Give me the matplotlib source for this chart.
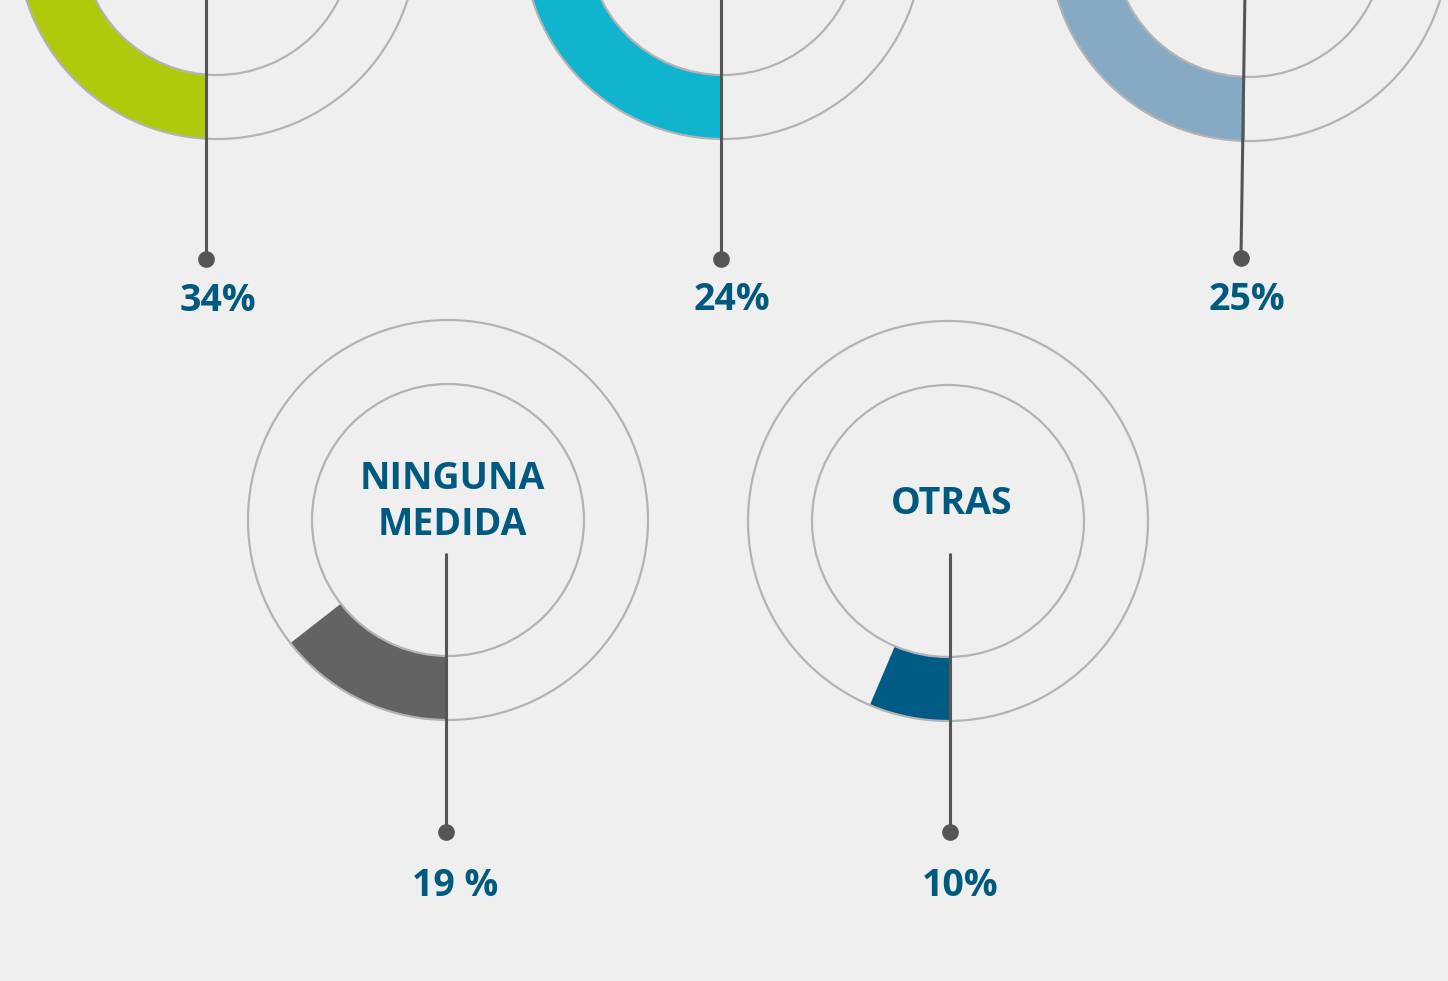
import numpy as np
import matplotlib.pyplot as plt
from matplotlib.patches import Wedge, Circle, Rectangle

# data
names = ["", "", "", "NINGUNA\nMEDIDA", "OTRAS"]
pct_labels = ["34%", "24%", "25%", "19 %", "10%"]
values = [34, 24, 25, 19, 10]
arc_deg = [122, 86, 90, 52, 23]  # visible sweep of each coloured arc

colors = ["#afca0b", "#10b4cf", "#87aac4", "#636362", "#005c84"]

# layout in pixel units of the 1448x981 canvas
centers = [(217, -61), (723, -61), (1249, -59), (448, 520), (948, 521)]
line_x_top = [206, 721, 1245, 446, 950]
line_x = [206, 721, 1241, 446, 950]
line_top = [-10, -10, -10, 553, 553]
dot_y = [259, 259, 258, 832, 832]
label_xy = [(218, 301), (732, 300), (1247, 300), (455, 886), (960, 886)]
name_y = [None, None, None, 502, 504]

R_OUT = 200
R_IN = 136
BG = "#efefef"
RING = "#b3b3b3"
STEM = "#555555"
TXT = "#005a80"

plt.rcParams['font.family'] = ['Open Sans', 'DejaVu Sans']

fig = plt.figure(figsize=(14.48, 9.81), dpi=100, facecolor=BG)
ax = fig.add_axes([0, 0, 1, 1])
ax.set_facecolor(BG)
ax.set_xlim(0, 1448)
ax.set_ylim(981, 0)
ax.set_aspect("equal")
ax.axis("off")

for i in range(len(values)):
    cx, cy = centers[i]
    # y axis is inverted, so 90 deg points down; the arc is cut at the stem
    w = Wedge((cx, cy), R_OUT, 80, 90 + arc_deg[i], width=R_OUT - R_IN,
              facecolor=colors[i], edgecolor="none", zorder=2)
    ax.add_patch(w)
    clip = Rectangle((cx - 300, cy - 300), line_x_top[i] - (cx - 300), 600,
                     transform=ax.transData)
    w.set_clip_path(clip)
    for r in (R_OUT, R_IN):
        ax.add_patch(Circle((cx, cy), r, fill=False, edgecolor=RING,
                            linewidth=1.6, zorder=3))

    ax.plot([line_x_top[i], line_x[i]], [line_top[i], dot_y[i]], color=STEM,
            linewidth=2.2, zorder=4, solid_capstyle="butt")
    ax.plot(line_x[i], dot_y[i], "o", color=STEM, markersize=11, zorder=5)

    lx, ly = label_xy[i]
    ax.text(lx, ly, pct_labels[i], ha="center", va="center", color=TXT,
            fontsize=27, fontweight="bold", zorder=6)
    if names[i]:
        ax.text(cx + 4, name_y[i], names[i], ha="center", va="center",
                color=TXT, fontsize=27, fontweight="bold", linespacing=1.3,
                zorder=6)

fig.savefig("out.png", dpi=100, facecolor=BG)
